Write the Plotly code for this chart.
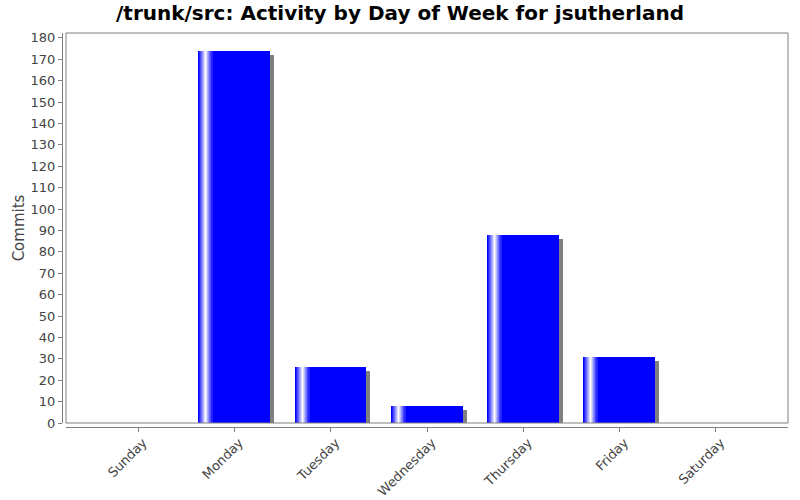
import plotly.graph_objects as go

# commits per weekday
days = ["Sunday", "Monday", "Tuesday", "Wednesday", "Thursday", "Friday", "Saturday"]
commits = [0, 174, 26, 8, 88, 31, 0]
y_ticks = list(range(0, 181, 10))

idx = list(range(len(days)))
bar_w = 0.74
px = 1 / 96.3          # one pixel in category units
shadow_dy = 1.87       # ~4px in value units

fig = go.Figure()

# drop shadow
fig.add_trace(go.Bar(
    x=idx, y=[max(v - shadow_dy, 0) if v > 0 else 0 for v in commits],
    width=bar_w, offset=-bar_w / 2 + 4 * px,
    marker=dict(color="#808080", line=dict(width=0)),
    hoverinfo="skip", showlegend=False))

# main bars
fig.add_trace(go.Bar(
    x=idx, y=commits,
    width=bar_w, offset=-bar_w / 2,
    marker=dict(color="#0000ff", line=dict(width=0)),
    showlegend=False))

# white highlight stripe near the left edge (gradient painter look)
for i in range(14):
    l = 1 - abs(i - 7) / 7.0
    c = "rgb(%d,%d,255)" % (int(255 * l), int(255 * l))
    fig.add_trace(go.Bar(
        x=idx, y=commits,
        width=px * 1.05, offset=-bar_w / 2 + i * px,
        marker=dict(color=c, line=dict(width=0)),
        hoverinfo="skip", showlegend=False))

pw = 800 - 62 - 12
ph = 500 - 33 - 73
fig.update_layout(
    width=800, height=500,
    barmode="overlay", bargap=0,
    plot_bgcolor="white", paper_bgcolor="white",
    margin=dict(l=62, r=12, t=33, b=73, autoexpand=False),
    font=dict(family="DejaVu Sans", size=13, color="#444444"),
    title=dict(text="<b>/trunk/src: Activity by Day of Week for jsutherland</b>",
               x=0.5, xref="container", xanchor="center", y=0.974, yanchor="middle",
               font=dict(family="DejaVu Sans", size=20, color="black")),
    shapes=[dict(type="rect", xref="paper", yref="paper",
                 x0=4 / pw, x1=1, y0=4 / ph, y1=1,
                 line=dict(color="#808080", width=1), layer="above")],
)
fig.update_xaxes(
    domain=[4 / pw, 1], anchor="free", position=0, automargin=False,
    range=[-0.75, 6.75],
    tickmode="array", tickvals=idx, ticktext=days, tickangle=-45,
    ticklabelshift=5, ticklabelstandoff=-2,
    showline=True, linecolor="#808080", linewidth=1,
    ticks="outside", ticklen=4, tickcolor="#808080",
    showgrid=False, zeroline=False,
    tickfont=dict(size=13, color="#444444"))
fig.update_yaxes(
    domain=[4 / ph, 1], anchor="free", position=0, automargin=False,
    range=[0, 182.3],
    tickmode="array", tickvals=y_ticks,
    showline=True, linecolor="#808080", linewidth=1,
    ticks="outside", ticklen=4, tickcolor="#808080",
    showgrid=False, zeroline=False,
    title=dict(text="Commits", font=dict(size=15, color="#444444"), standoff=1),
    tickfont=dict(size=13, color="#444444"))

# drop the default 8px page margin so the chart sits at the window origin
fig.write_html("out.html", config={"displayModeBar": False},
               post_script="document.body.style.margin='0px';")
